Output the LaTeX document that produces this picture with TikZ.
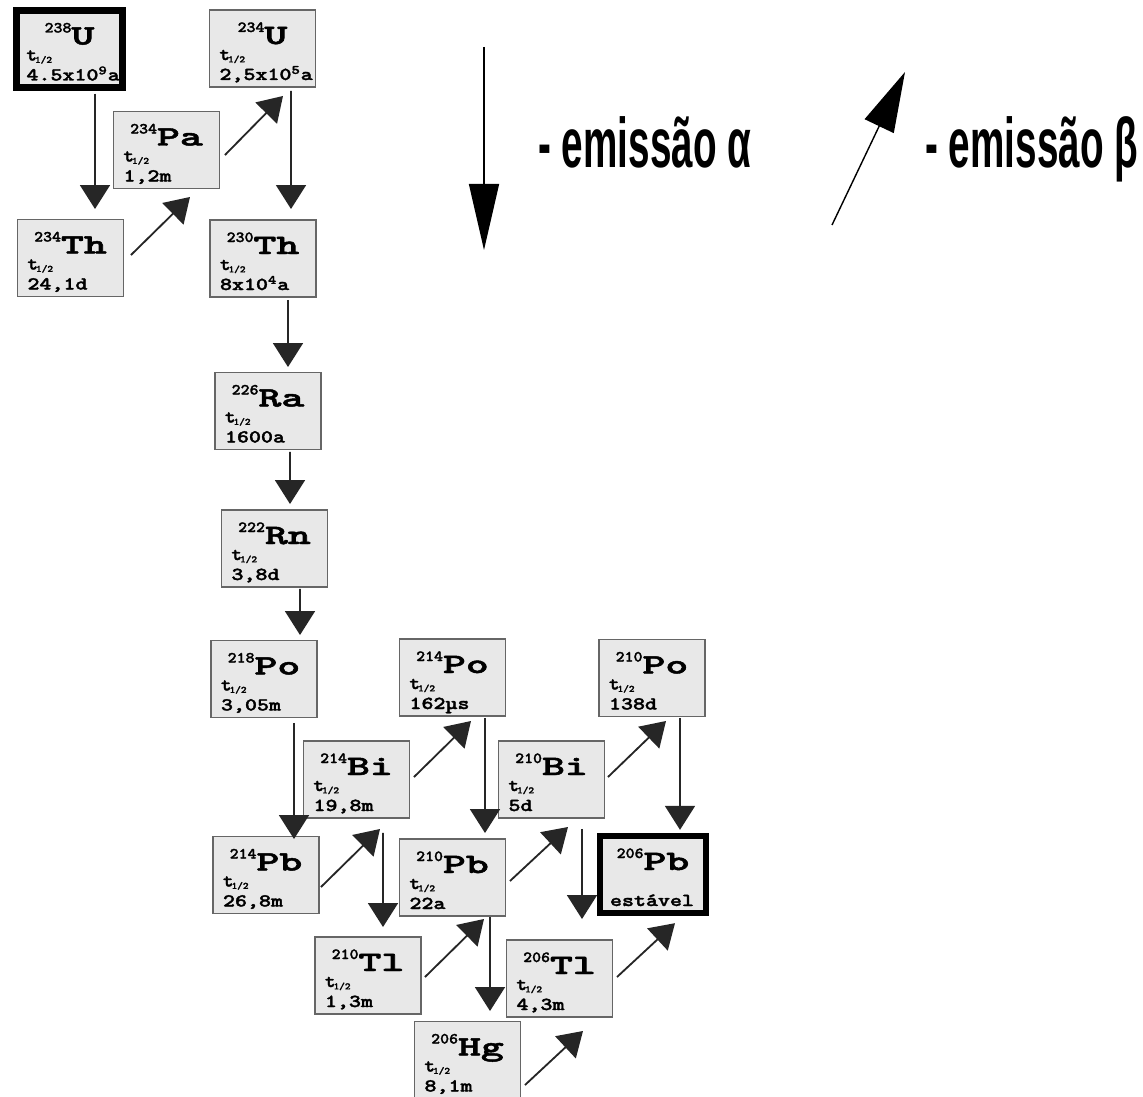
\documentclass[tikz,border=0pt]{standalone}
\usepackage{fontspec}
\usepackage{graphicx}
\usetikzlibrary{arrows.meta}
\newfontfamily\legendfont{Liberation Sans}
\newfontfamily\boxfont[FakeBold=1.6]{lmmonolt10-bold.otf}
\newlength{\pu}
\setlength{\pu}{0.025cm}
\newcommand{\masstext}[1]{\scalebox{1.1}[1]{\fontsize{11pt}{11pt}\selectfont\boxfont #1}}
\newcommand{\symtext}[1]{\scalebox{1.55}[1]{\fontsize{20pt}{20pt}\selectfont\boxfont #1}}
\newcommand{\lifetext}[1]{\scalebox{1.25}[1]{\fontsize{13pt}{13pt}\selectfont\boxfont #1}}
\newcommand{\thalf}{\scalebox{1.1}[1]{\fontsize{13pt}{13pt}\selectfont\boxfont t\kern-0.1em\raisebox{-0.3ex}{\fontsize{7pt}{7pt}\selectfont 1/2}}}
\newcommand{\legendtext}[1]{\scalebox{0.55}[1]{\fontsize{50pt}{50pt}\selectfont\legendfont\bfseries #1}}
\newcommand{\nuc}[4][\thalf]{%
  \vbox to 77\pu{\hsize=106\pu\offinterlineskip
    \hbox to \hsize{\hfil\rule{0pt}{34\pu}\smash{\raisebox{12\pu}{\masstext{#2}}\symtext{#3}}\hfil}
    \hbox{\kern10\pu\rule{0pt}{16\pu}\smash{#1}}
    \hbox{\kern10\pu\rule{0pt}{20\pu}\smash{\lifetext{#4}}}
    \vfil}}
\tikzset{
  nucbox/.style={draw=black!60, line width=1.4pt, fill=black!9, inner sep=0pt},
  endbox/.style={nucbox, draw=black, line width=4.5pt},
  decay/.style={draw=black!85, line width=1.3pt, -{Triangle[length=0.6cm,width=0.75cm]}},
  legendarrow/.style={draw=black, line width=1pt},
}

\begin{document}
\begin{tikzpicture}[x=0.025cm,y=-0.025cm]
\useasboundingbox (0,0) rectangle (1143,1097);
\node[endbox] (U238) at (69.5,49) {\nuc{238}{U}{4.5x10\textsuperscript{9}a}};
\node[nucbox] (U234) at (262.5,48.5) {\nuc{234}{U}{2,5x10\textsuperscript{5}a}};
\node[nucbox] (Pa234) at (166.5,150) {\nuc{234}{Pa}{1,2m}};
\node[nucbox] (Th234) at (70.5,258) {\nuc{234}{Th}{24,1d}};
\node[nucbox] (Th230) at (263,258.5) {\nuc{230}{Th}{8x10\textsuperscript{4}a}};
\node[nucbox] (Ra226) at (268,411) {\nuc{226}{Ra}{1600a}};
\node[nucbox] (Rn222) at (274.5,548.5) {\nuc{222}{Rn}{3,8d}};
\node[nucbox] (Po218) at (264,679) {\nuc{218}{Po}{3,05m}};
\node[nucbox] (Po214) at (452.5,677.5) {\nuc{214}{Po}{162µs}};
\node[nucbox] (Po210) at (652,678) {\nuc{210}{Po}{138d}};
\node[nucbox] (Bi214) at (356.5,779.5) {\nuc{214}{Bi}{19,8m}};
\node[nucbox] (Bi210) at (551.5,779.5) {\nuc{210}{Bi}{5d}};
\node[nucbox] (Pb214) at (266,875) {\nuc{214}{Pb}{26,8m}};
\node[nucbox] (Pb210) at (452.5,877.5) {\nuc{210}{Pb}{22a}};
\node[endbox] (Pb206) at (653,874.5) {\nuc[]{206}{Pb}{estável}};
\node[nucbox] (Tl210) at (368,975.5) {\nuc{210}{Tl}{1,3m}};
\node[nucbox] (Tl206) at (559.5,978.5) {\nuc{206}{Tl}{4,3m}};
\node[nucbox] (Hg206) at (467.5,1060) {\nuc{206}{Hg}{8,1m}};
\draw[decay] ([shift={(25.5,3)}]U238.south) -- ([shift={(24.5,-9.5)}]Th234.north);
\draw[decay] ([shift={(28.5,3)}]U234.south) -- ([shift={(28,-10)}]Th230.north);
\draw[decay] ([shift={(25,2)}]Th230.south) -- ([shift={(20,-4.5)}]Ra226.north);
\draw[decay] ([shift={(22,1.5)}]Ra226.south) -- ([shift={(15.5,-5)}]Rn222.north);
\draw[decay] ([shift={(25.5,1)}]Rn222.south) -- ([shift={(36,-4.5)}]Po218.north);
\draw[decay] ([shift={(30,4.5)}]Po218.south) -- ([shift={(28,3.5)}]Pb214.north);
\draw[decay] ([shift={(32.5,1)}]Po214.south) -- ([shift={(32.5,-5)}]Pb210.north);
\draw[decay] ([shift={(28,0.5)}]Po210.south) -- ([shift={(27,-3)}]Pb206.north);
\draw[decay] ([shift={(26.5,14)}]Bi214.south) -- ([shift={(15,-9)}]Tl210.north);
\draw[decay] ([shift={(30.5,10)}]Bi210.south) -- ([shift={(22.5,-20)}]Tl206.north);
\draw[decay] ([shift={(37.5,0)}]Pb210.south) -- ([shift={(22.5,-9.5)}]Hg206.north);
\draw[decay] ([shift={(6.5,-3)}]Th234.east) -- ([shift={(23.5,7.5)}]Pa234.south);
\draw[decay] ([shift={(4.5,5)}]Pa234.east) -- ([shift={(20.5,8)}]U234.south);
\draw[decay] ([shift={(1,12)}]Pb214.east) -- ([shift={(23.5,10)}]Bi214.south);
\draw[decay] ([shift={(3.5,-2.5)}]Bi214.east) -- ([shift={(18.5,4)}]Po214.south);
\draw[decay] ([shift={(3.5,3.5)}]Pb210.east) -- ([shift={(16.5,8)}]Bi210.south);
\draw[decay] ([shift={(2.5,-2.5)}]Bi210.east) -- ([shift={(14,3.5)}]Po210.south);
\draw[decay] ([shift={(3,1.5)}]Tl210.east) -- ([shift={(31.5,2)}]Pb210.south);
\draw[decay] ([shift={(3.5,-1.5)}]Tl206.east) -- ([shift={(22,7)}]Pb206.south);
\draw[decay] ([shift={(3.5,25)}]Hg206.east) -- ([shift={(23.5,13)}]Tl206.south);
\coordinate (alphatail) at (484,47);
\coordinate (alphatip) at (484,250);
\coordinate (betatail) at (832,225);
\coordinate (betatip) at (905,72);
\draw[legendarrow, -{Triangle[length=1.65cm,width=0.75cm]}] (alphatail) -- (alphatip);
\draw[legendarrow, -{Triangle[length=1.5cm,width=0.8cm]}] (betatail) -- (betatip);
\node[anchor=base west, inner sep=0pt] (alphatext) at (538,167) {\legendtext{- emissão α}};
\node[anchor=base west, inner sep=0pt] (betatext) at (925,167) {\legendtext{- emissão β}};
\end{tikzpicture}
\end{document}
